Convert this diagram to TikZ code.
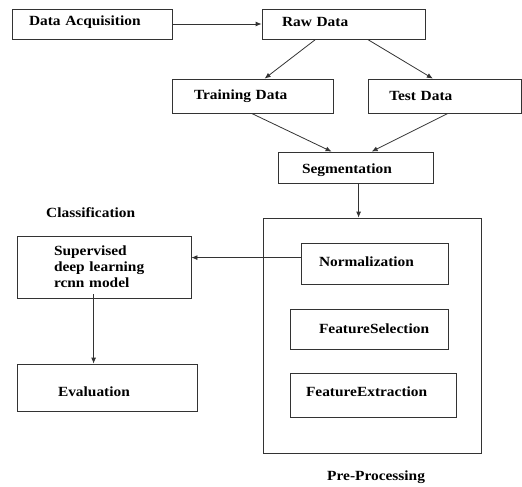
\documentclass[tikz,border=0pt]{standalone}
\usepackage{fontspec}
\setmainfont{Liberation Serif}[FakeStretch=1.1]
\usetikzlibrary{arrows.meta,calc}
\newcommand\txtshift[2]{\raisebox{#1}[\height][\depth]{#2}}
\begin{document}
\begin{tikzpicture}[x=1pt,y=-1pt,
  box/.style={draw=black!80,line width=0.8pt,rectangle,align=left,inner ysep=0pt,
    font=\fontsize{14}{16}\selectfont\bfseries},
  lbl/.style={anchor=west,inner sep=0pt,font=\fontsize{14}{16}\selectfont\bfseries},
  arr/.style={draw=black!80,line width=0.8pt,-{Latex[length=6pt,width=5pt]}}]
\path[use as bounding box] (0,0) rectangle (522,487);
% boxes: minimum width W, text width W-2pad, inner xsep pad
\node[box,minimum width=160,minimum height=30,text width=126,inner xsep=17] (da) at (92,24) {\txtshift{2pt}{Data Acquisition}};
\node[box,minimum width=163,minimum height=30,text width=123,inner xsep=20] (raw) at (343.5,24) {\txtshift{2pt}{Raw Data}};
\node[box,minimum width=161,minimum height=34,text width=117,inner xsep=22] (train) at (252.5,96) {Training Data};
\node[box,minimum width=153,minimum height=34,text width=111,inner xsep=21] (test) at (444.75,96) {Test Data};
\node[box,minimum width=155,minimum height=31,text width=107,inner xsep=24] (seg) at (355.5,167.5) {\txtshift{-2.5pt}{Segmentation}};
\node[box,minimum width=218,minimum height=235] (pre) at (372,335.5) {};
\node[box,minimum width=147,minimum height=41,text width=111,inner xsep=18] (norm) at (374.5,263.5) {\txtshift{1.5pt}{Normalization}};
\node[box,minimum width=158,minimum height=40,text width=100,inner xsep=29] (fsel) at (369,329) {FeatureSelection};
\node[box,minimum width=166,minimum height=44,text width=134,inner xsep=16] (fext) at (373,395) {\txtshift{3pt}{FeatureExtraction}};
\node[box,minimum width=174,minimum height=62,text width=100,inner xsep=37] (sup) at (104,267) {Supervised\\deep learning\\rcnn model};
\node[box,minimum width=180,minimum height=47,text width=98,inner xsep=41] (eval) at (107,387.5) {\txtshift{-4.5pt}{Evaluation}};
\node[lbl] (cls) at (46,213) {Classification};
\node[lbl] (pp) at (327,477) {Pre-Processing};
% connectors
\draw[arr] (da.east) -- (raw.west);
\draw[arr] ($(raw.south west)+(54,0)$) -- ($(train.north west)+(93,0)$);
\draw[arr] ($(raw.south west)+(106,0)$) -- ($(test.north west)+(65,0)$);
\draw[arr] ($(train.south west)+(80,0)$) -- ($(seg.north west)+(54,0)$);
\draw[arr] ($(test.south west)+(80,0)$) -- ($(seg.north west)+(94,0)$);
\draw[arr] ($(seg.south west)+(81,0)$) -- ($(pre.north west)+(96,0)$);
\draw[arr] ($(norm.north west)+(0,15)$) -- ($(sup.north east)+(0,22)$);
\draw[arr] ($(sup.south west)+(77,-4)$) -- ($(eval.north west)+(77,0)$);
\end{tikzpicture}
\end{document}
